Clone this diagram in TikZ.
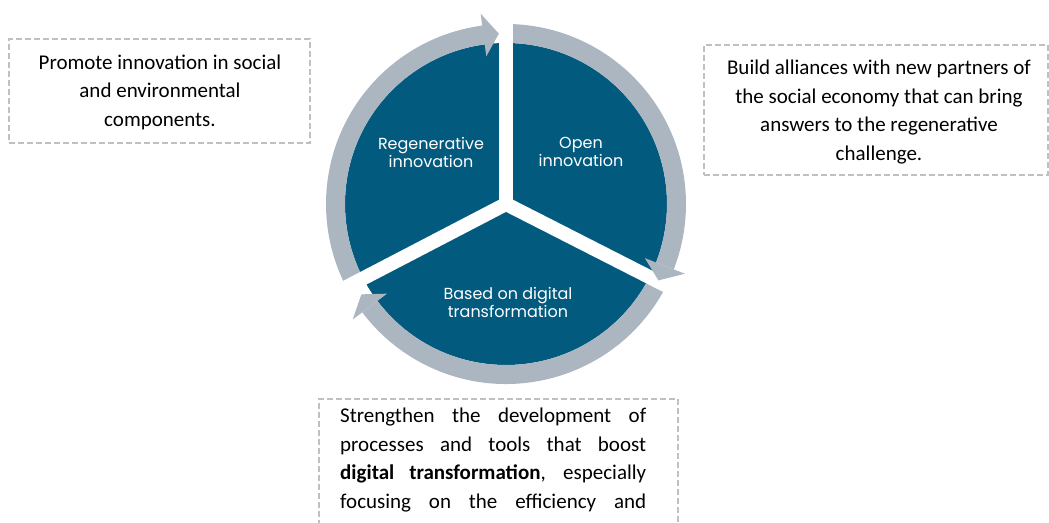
\documentclass[tikz,border=0pt]{standalone}
\usepackage{fontspec}
\setmainfont{Carlito}
\newfontfamily\circfont{Poppins}
\definecolor{discblue}{HTML}{025B7F}
\definecolor{ringgray}{HTML}{ACB6C1}
\definecolor{dashgray}{HTML}{C0C0C0}
\begin{document}
\begin{tikzpicture}[x=1pt,y=1pt,
  notebox/.style={draw=dashgray, line width=1.8pt, dash pattern=on 6pt off 3pt},
  notetext/.style={inner sep=0pt, align=center, font=\fontsize{21}{28.5}\selectfont},
  lineleft/.style={inner sep=0pt, anchor=base west, font=\fontsize{21}{28.5}\selectfont},
  circtext/.style={inner sep=0pt, align=center, text=white, font=\circfont\fontsize{16}{18}\selectfont},
  gapline/.style={draw=white, line width=14pt},
  ringpart/.style={fill=ringgray}]
\useasboundingbox (0,0) rectangle (1049,522);
\clip (0,0) rectangle (1049,522);

% disc and ring
\begin{scope}[shift={(506,318)}]
  \coordinate (c) at (0,0);
  \fill[discblue] (c) circle[radius=161];
  % ring bodies
  \path[ringpart] (208:180) arc[start angle=208, end angle=97.4, radius=180]
     -- (97.4:161) arc[start angle=97.4, end angle=208, radius=161] -- cycle;
  \path[ringpart] (90:180) arc[start angle=90, end angle=-21.3, radius=180]
     -- (-21.3:161) arc[start angle=-21.3, end angle=90, radius=161] -- cycle;
  \path[ringpart] (-27:180) arc[start angle=-27, end angle=-143, radius=180]
     -- (-143:161) arc[start angle=-143, end angle=-27, radius=161] -- cycle;
  % gaps
  \coordinate (g1) at (90:200);
  \coordinate (g2) at (-27:200);
  \coordinate (g3) at (207.5:200);
  \draw[gapline] (c) -- (g1);
  \draw[gapline] (c) -- (g2);
  \draw[gapline] (c) -- (g3);
  \fill[white] (c) circle[radius=7];
  % arrow heads
  \path[ringpart] (97.6:192) -- (92.4:170.5) -- (97.6:149) -- cycle;
  \path[ringpart] (-21.3:192) -- (-26.6:170.5) -- (-21.3:149) -- cycle;
  \path[ringpart] (-143:192) -- (-148:170.5) -- (-143:149) -- cycle;
\end{scope}

% labels in circle
\node[circtext] (regen) at (431,370) {Regenerative\\innovation};
\node[circtext] (open) at (581,370) {Open\\innovation};
\node[circtext] (digital) at (508,220) {Based on digital\\transformation};

% note boxes
\node[notebox, minimum width=301pt, minimum height=104pt, inner sep=0pt] (box1) at (159.5,431) {};
\node[notetext] (note1) at (160,430) {Promote innovation in social\\and environmental\\components.};

\node[notebox, minimum width=344pt, minimum height=130pt, inner sep=0pt] (box2) at (876,412) {};
\node[notetext] (note2) at (879,410) {Build alliances with new partners of\\the social economy that can bring\\answers to the regenerative\\challenge.};

\node[notebox, anchor=north west, minimum width=359pt, minimum height=160pt, inner sep=0pt] (box3) at (318,124) {};
\node[lineleft] (l1) at (340,99) {\makebox[306pt][s]{Strengthen the development of}};
\node[lineleft] (l2) at (340,70.5) {\makebox[306pt][s]{processes and tools that boost}};
\node[lineleft] (l3) at (340,42) {\makebox[306pt][s]{\textbf{digital transformation}, especially}};
\node[lineleft] (l4) at (340,13.5) {\makebox[306pt][s]{focusing on the efficiency and}};
\end{tikzpicture}
\end{document}
